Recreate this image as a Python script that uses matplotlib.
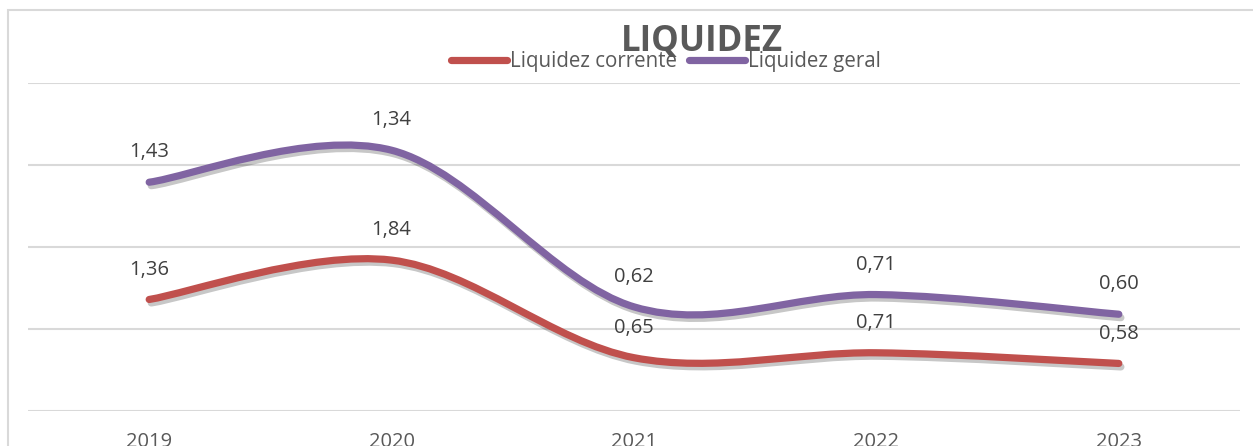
import numpy as np
import matplotlib
matplotlib.use('Agg')
import matplotlib.pyplot as plt
from matplotlib.path import Path
from matplotlib.patches import PathPatch, Rectangle
import matplotlib.patheffects as pe

plt.rcParams['font.family'] = ['Open Sans', 'DejaVu Sans']

anos = ['2019', '2020', '2021', '2022', '2023']
liq_corrente = [1.36, 1.84, 0.65, 0.71, 0.58]
liq_geral = [1.43, 1.34, 0.62, 0.71, 0.60]
series_nomes = ['Liquidez corrente', 'Liquidez geral']
cores = ['#C0504D', '#8064A2']


def curva_suave(xs, ys):
    # curva tipo Excel (Catmull-Rom -> Bezier)
    pts = np.column_stack([xs, ys])
    n = len(pts)
    verts = [pts[0]]
    codes = [Path.MOVETO]
    for i in range(n - 1):
        p0 = pts[max(i - 1, 0)]
        p1 = pts[i]
        p2 = pts[i + 1]
        p3 = pts[min(i + 2, n - 1)]
        c1 = p1 + (p2 - p0) / 6.0
        c2 = p2 - (p3 - p1) / 6.0
        verts += [c1, c2, p2]
        codes += [Path.CURVE4] * 3
    return Path(verts, codes)


fig = plt.figure(figsize=(12.53, 4.46), dpi=100)
fig.patches.append(Rectangle((8 / 1253, -0.1), 1.1, 1.1 - 10 / 446,
                             transform=fig.transFigure, fill=False,
                             edgecolor='#D9D9D9', linewidth=1.5))
ax = fig.add_axes([28 / 1253, 35 / 446, 1212 / 1253, 328 / 446])

x = np.arange(len(anos))
acumulado = np.array(liq_corrente) + np.array(liq_geral)
empilhado = [np.array(liq_corrente), acumulado]
valores = [liq_corrente, liq_geral]

for ys, vals, cor, nome in zip(empilhado, valores, cores, series_nomes):
    patch = PathPatch(curva_suave(x, ys), facecolor='none', edgecolor=cor,
                      linewidth=5.2, capstyle='round', zorder=3,
                      path_effects=[pe.SimpleLineShadow(offset=(1.5, -2.5), shadow_color='black', alpha=0.22),
                                    pe.Normal()])
    ax.add_patch(patch)
    ax.plot([], [], color=cor, linewidth=5.2, solid_capstyle='round', label=nome)
    for xi, yi, v in zip(x, ys, vals):
        ax.annotate(('%.2f' % v).replace('.', ','), (xi, yi), xytext=(0, 21.5),
                    textcoords='offset points', ha='center', va='center',
                    fontsize=14.5, color='#404040', zorder=4)

ax.set_xlim(-0.5, 4.5)
ax.set_ylim(0, 4)
ax.set_yticks([0, 1, 2, 3, 4])
ax.set_yticklabels([])
ax.set_xticks(x)
ax.set_xticklabels(anos, fontsize=14.5, color='#595959')
ax.tick_params(axis='both', length=0)
ax.tick_params(axis='x', pad=15)
ax.grid(axis='y', color='#D9D9D9', linewidth=1.5)
ax.set_axisbelow(True)
for s in ax.spines.values():
    s.set_visible(False)

fig.text(702 / 1253, 1 - 42 / 446, 'LIQUIDEZ', ha='center', va='center',
         fontsize=25, fontweight='bold', color='#595959', zorder=1)
fig.legend(loc='center', bbox_to_anchor=(666 / 1253, 1 - 62 / 446), ncol=2,
           frameon=False, fontsize=14.8, handlelength=2.7, handletextpad=0.15,
           columnspacing=0.6, labelcolor='#595959')

fig.savefig('out.png', dpi=100)
